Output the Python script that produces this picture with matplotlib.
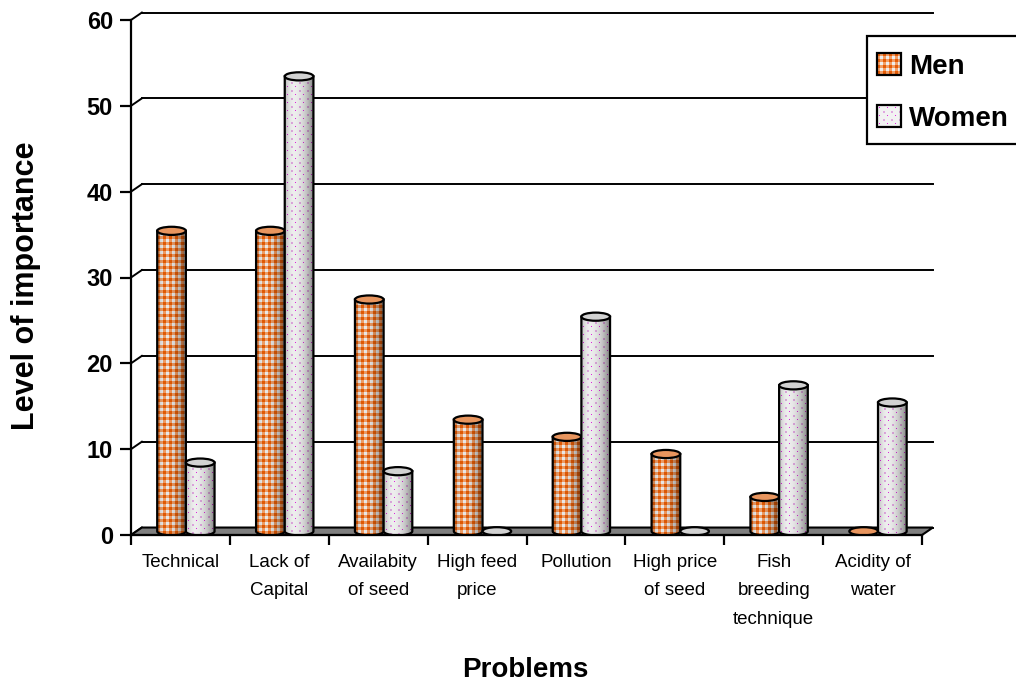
"""
Problems ranked by men and women fish farmers, 3-D cylinder column chart
"""
import numpy as np
import matplotlib.pyplot as plt
from matplotlib.patches import Polygon, Ellipse, Rectangle

plt.rcParams['font.family'] = ['Liberation Sans', 'DejaVu Sans']

# data
categories = ['Technical', 'Lack of\nCapital', 'Availabity\nof seed', 'High feed\nprice',
              'Pollution', 'High price\nof seed', 'Fish\nbreeding\ntechnique', 'Acidity of\nwater']
men = [35, 35, 27, 13, 11, 9, 4, 0]
women = [8, 53, 7, 0, 25, 0, 17, 15]
yticks = [0, 10, 20, 30, 40, 50, 60]
series_names = ['Men', 'Women']

# 3-d look
DX, DY = 0.11, 0.87     # back wall offset (category units, value units)
BAR_W = 0.29            # cylinder diameter
EH = 0.95               # height of the end ellipses in value units
ORANGE = np.array([0.90, 0.36, 0.02])
LT_ORANGE = np.array([0.95, 0.62, 0.40])
MAGENTA = np.array([0.88, 0.15, 0.88])
PINK = np.array([0.88, 0.66, 0.88])


def shade(n):
    u = (np.arange(n) + 0.5) / n
    return np.where(u < 0.3,
                    0.98 - 0.22 * ((0.3 - u) / 0.3) ** 2,
                    0.98 - 0.45 * ((u - 0.3) / 0.7) ** 2)


def men_tile(h, w):
    yy, xx = np.mgrid[0:h, 0:w]
    a = xx % 6 < 3
    b = yy % 6 < 3
    rgb = np.ones((h, w, 3)) * 0.93
    rgb[a ^ b] = LT_ORANGE
    rgb[a & b] = ORANGE
    return rgb


def women_tile(h, w):
    yy, xx = np.mgrid[0:h, 0:w]
    rgb = np.ones((h, w, 3)) * 0.95
    rgb[(xx % 8 == 2) & (yy % 8 == 2)] = MAGENTA
    rgb[((xx % 8) // 2 == 3) & ((yy % 8) // 2 == 3)] = PINK
    return rgb


def cylinder(ax, xc, val, tile, top_color, z):
    x0, x1 = xc - BAR_W / 2, xc + BAR_W / 2
    y0 = DY / 2
    y1 = val + DY / 2
    if val <= 0:
        ax.add_patch(Ellipse((xc, y0), BAR_W, EH, facecolor=top_color,
                             edgecolor='k', lw=1.6, zorder=z))
        return
    t = np.linspace(np.pi, 2 * np.pi, 40)
    verts = ([(x0, y1), (x0, y0)]
             + list(zip(xc + BAR_W / 2 * np.cos(t), y0 + EH / 2 * np.sin(t)))
             + [(x1, y1)])
    p0 = ax.transData.transform((x0, y0 - EH / 2))
    p1 = ax.transData.transform((x1, y1))
    w_px = max(int(round(p1[0] - p0[0])), 1)
    h_px = max(int(round(p1[1] - p0[1])), 1)
    img = np.clip(tile(h_px, w_px) * shade(w_px)[None, :, None], 0, 1)
    im = ax.imshow(img, extent=(x0, x1, y0 - EH / 2, y1), aspect='auto',
                   interpolation='nearest', zorder=z)
    clip = Polygon(verts, closed=True, transform=ax.transData)
    im.set_clip_path(clip)
    ax.add_patch(Polygon(verts, closed=True, fill=False, edgecolor='k',
                         lw=1.6, zorder=z + 0.1))
    ax.add_patch(Ellipse((xc, y1), BAR_W, EH, facecolor=top_color,
                         edgecolor='k', lw=1.6, zorder=z + 0.2))


fig = plt.figure(figsize=(10.16, 6.86), dpi=100)
ax = fig.add_axes([131 / 1016, 151 / 686, 791 / 1016, 515 / 686])
n = len(categories)
ax.set_xlim(0, n)
ax.set_ylim(0, 60)

# back wall gridlines and the left wall diagonals
for v in yticks:
    ax.plot([DX, n + DX], [v + DY, v + DY], 'k', lw=1.4, zorder=1, clip_on=False)
    ax.plot([0, DX], [v, v + DY], 'k', lw=1.4, zorder=1, clip_on=False)

# floor
ax.add_patch(Polygon([(0, 0), (n, 0), (n + DX, DY), (DX, DY)], closed=True,
                     facecolor='#7f7f7f', edgecolor='k', lw=1.5, zorder=2,
                     clip_on=False))

# cylinders
z = 3
for i in range(n):
    cylinder(ax, i + 0.355 + DX / 2, men[i], men_tile, '#E8955E', z)
    cylinder(ax, i + 0.645 + DX / 2, women[i], women_tile, '#D2D2D2', z + 1)
    z += 2

ax.set_xlim(0, n)
ax.set_ylim(0, 60)

# axes
for s in ['top', 'right']:
    ax.spines[s].set_visible(False)
for s in ['left', 'bottom']:
    ax.spines[s].set_linewidth(1.6)
    ax.spines[s].set_zorder(50)
ax.set_yticks(yticks)
ax.set_yticklabels([str(v) for v in yticks], fontsize=17, fontweight='bold')
ax.tick_params(axis='y', length=8, width=1.6, pad=5)
ax.set_xticks(np.arange(n + 1))
ax.set_xticklabels([])
ax.tick_params(axis='x', which='major', length=7.5, width=1.6)
ax.set_xticks(np.arange(n) + 0.5, minor=True)
ax.set_xticklabels(categories, minor=True, fontsize=13.5)
ax.tick_params(axis='x', which='minor', length=0, pad=14)
for lab in ax.get_xticklabels(minor=True):
    lab.set_linespacing(1.85)

ax.set_ylabel('Level of importance', fontsize=22, fontweight='bold')
ax.yaxis.set_label_coords(-0.114, 0.4835)
ax.set_xlabel('Problems', fontsize=20, fontweight='bold')
ax.xaxis.set_label_coords(0.499, -0.237)
ax.patch.set_visible(False)

# legend
lax = fig.add_axes([0, 0, 1, 1], zorder=10)
lax.set_xlim(0, 1016)
lax.set_ylim(686, 0)
lax.axis('off')
lax.add_patch(Rectangle((867, 36), 200, 108, facecolor='white', edgecolor='k',
                        lw=1.6, clip_on=False))
for name, tile, yc in zip(series_names, [men_tile, women_tile], [64, 116]):
    lax.imshow(tile(22, 24), extent=(877, 901, yc + 11, yc - 11), aspect='auto',
               interpolation='nearest', zorder=11)
    lax.add_patch(Rectangle((877, yc - 11), 24, 22, fill=False, edgecolor='k',
                            lw=1.6, zorder=12))
    lax.text(909, yc + 3, name, fontsize=20, fontweight='bold', va='center', ha='left')
lax.set_xlim(0, 1016)
lax.set_ylim(686, 0)

fig.savefig('out.png', dpi=100)
